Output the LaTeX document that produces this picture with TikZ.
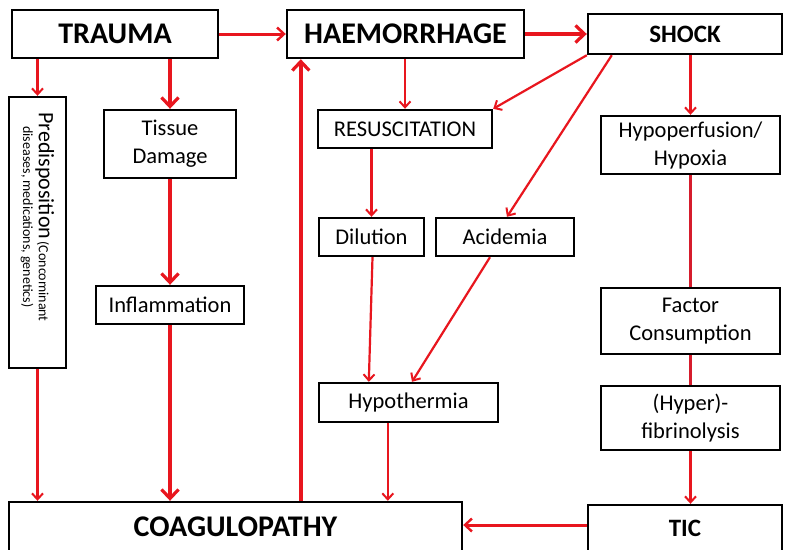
\documentclass[tikz,border=0pt]{standalone}
\usepackage{fontspec}
\setmainfont{Carlito}
\usetikzlibrary{arrows.meta,calc}
\definecolor{flow}{RGB}{232,22,30}
\definecolor{flowdark}{RGB}{214,28,44}
\tikzset{
  box/.style={draw=black, line width=2.4pt, fill=white, align=center, inner sep=2pt},
  bigtxt/.style={font=\fontsize{30}{34}\selectfont\bfseries},
  midtxt/.style={font=\fontsize{25}{28}\selectfont\bfseries},
  txt/.style={font=\fontsize{22.5}{28}\selectfont},
  heavy/.style={draw=flow, line width=4pt, -{Straight Barb[length=9pt,width=17pt,line width=3.2pt]}},
  medium/.style={draw=flow, line width=3pt, -{Straight Barb[length=7pt,width=13pt,line width=2.4pt]}},
  light/.style={draw=flow, line width=2.2pt, -{Straight Barb[length=6pt,width=11pt,line width=2pt]}},
  plain/.style={draw=flowdark, line width=2.2pt},
}
\begin{document}
\begin{tikzpicture}[x=1pt,y=-1pt]
\clip (0,0) rectangle (786,549);
\useasboundingbox (0,0) rectangle (786,549);
\fill[white] (0,0) rectangle (786,549);

% top row
\node[box, bigtxt, minimum width=206pt, minimum height=48pt] (trauma) at (115,34) {TRAUMA};
\node[box, bigtxt, minimum width=237pt, minimum height=48pt] (haem) at (405.5,34) {HAEMORRHAGE};
\node[box, midtxt, minimum width=194pt, minimum height=40pt] (shock) at (685,34) {SHOCK};

% left column
\node[box, minimum width=57pt, minimum height=271pt] (pred) at (37.5,232.5) {};
\node[rotate=-90, align=center, inner sep=0pt] (predtxt) at (37.5,217)
  {{\fontsize{22}{24}\selectfont Predisposition} {\fontsize{14}{16}\selectfont (Concominant}\\[1pt]
   {\fontsize{14}{16}\selectfont diseases, medications, genetics)}};
\node[box, txt, minimum width=132pt, minimum height=68pt] (tissue) at (170,144) {Tissue\\Damage};
\node[box, txt, minimum width=148pt, minimum height=38pt] (infl) at (170,305) {Inflammation};

% middle column
\node[box, txt, minimum width=174pt, minimum height=38pt] (resus) at (405,129) {RESUSCITATION};
\node[box, txt, minimum width=105pt, minimum height=38pt] (dil) at (371.5,237) {Dilution};
\node[box, txt, minimum width=138pt, minimum height=38pt] (acid) at (505,237) {Acidemia};
\node[box, txt, minimum width=179pt, minimum height=39pt] (hypo) at (408.5,402.5) {Hypothermia};

% right column
\node[box, txt, minimum width=179pt, minimum height=58pt] (perf) at (690.5,145) {Hypoperfusion/\\Hypoxia};
\node[box, txt, minimum width=179pt, minimum height=66pt] (factor) at (690.5,321) {Factor\\Consumption};
\node[box, txt, minimum width=179pt, minimum height=64pt] (fib) at (690.5,418) {(Hyper)-\\fibrinolysis};

% bottom row
\node[box, bigtxt, minimum width=453pt, minimum height=50pt] (coag) at (235.5,527) {COAGULOPATHY};
\node[box, midtxt, minimum width=194pt, minimum height=47pt] (tic) at (685,528.5) {TIC};

% helper points
\coordinate (hx) at ($(haem.south west)+(15,0)$);
\coordinate (hy) at ($(hypo.south west)+(70,0)$);
\coordinate (sa) at ($(shock.south west)+(25,0)$);
\coordinate (ticw) at ($(tic.west)+(0,-3.5)$);

% connectors
\draw[medium] (trauma.east) -- (haem.west);
\draw[heavy] (haem.east) -- (shock.west);
\draw[light] (pred.north |- trauma.south) -- (pred.north);
\draw[heavy] (tissue.north |- trauma.south) -- (tissue.north);
\draw[heavy] (tissue.south) -- (infl.north);
\draw[heavy] (infl.south) -- (infl.south |- coag.north);
\draw[light] (pred.south) -- (pred.south |- coag.north);
\draw[heavy] (hx |- coag.north) -- (hx);
\draw[light] (resus.north |- haem.south) -- (resus.north);
\draw[light] (shock.south west) -- (resus.north east);
\draw[light] (sa) -- ($(acid.north)+(2,0)$);
\draw[light] (perf.north |- shock.south) -- (perf.north);
\draw[light] (dil.north |- resus.south) -- (dil.north);
\draw[light] ($(dil.south)+(1,0)$) -- ($(hypo.north west)+(51,0)$);
\draw[light] ($(acid.south)+(-15,0)$) -- ($(hypo.north)+(3.5,0)$);
\draw[light] (hy) -- (hy |- coag.north);
\draw[plain] (perf.south) -- (factor.north);
\draw[plain] (factor.south) -- (fib.north);
\draw[light] (fib.south) -- (fib.south |- tic.north);
\draw[medium] (ticw) -- (ticw -| coag.east);
\end{tikzpicture}
\end{document}
